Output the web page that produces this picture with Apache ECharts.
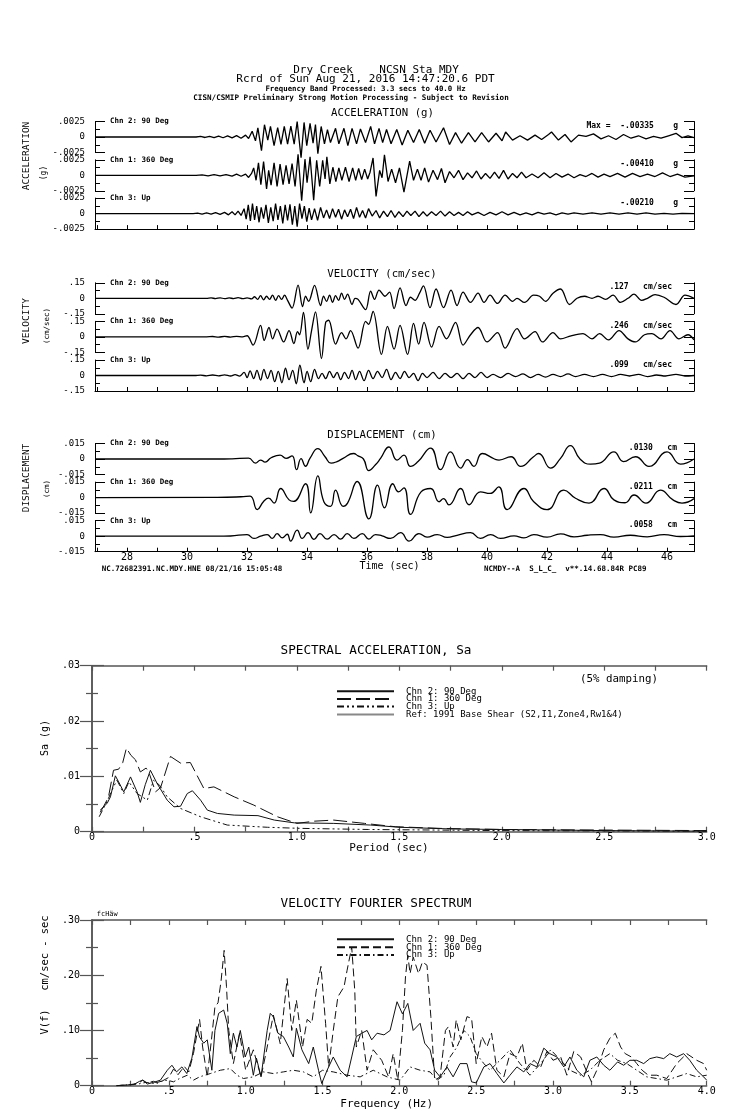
<!DOCTYPE html>
<html><head><meta charset="utf-8">
<script src="https://cdn.jsdelivr.net/npm/echarts/dist/echarts.min.js"></script>
<style>html,body{margin:0;padding:0;background:#fff}#c{width:739px;height:1115px}</style>
</head><body><div id="c"></div>
<script>
// ---------------- DATA ----------------
const timeTicks = [27,28,29,30,31,32,33,34,35,36,37,38,39,40,41,42,43,44,45,46];
const timeTickLabels = [28,30,32,34,36,38,40,42,44,46];
const channelNames = ['Chn 2: 90 Deg','Chn 1: 360 Deg','Chn 3: Up'];
const peakLabels = ['Max =  -.00335    g','-.00410    g','-.00210    g',
  '.127   cm/sec','.246   cm/sec','.099   cm/sec',
  '.0130   cm','.0211   cm','.0058   cm'];

const accChn2 = [[26.93,0],[30.3,0],[30.45,0.0001],[30.6,-0.00008],[30.75,0.00012],[30.9,-0.0001],[31.05,0.00015],[31.2,-0.00012],[31.35,0.00018],[31.5,-0.00015],[31.65,0.00022],[31.8,-0.0002],[31.95,0.0003],[32.05,-0.00025],[32.17,0.00094],[32.28,-0.00063],[32.36,0.00146],[32.48,-0.00219],[32.58,0.00198],[32.69,-0.0005],[32.78,0.0017],[32.9,-0.0014],[33.02,0.0015],[33.13,-0.0012],[33.24,0.0017],[33.35,-0.00115],[33.46,0.00175],[33.57,-0.00115],[33.67,0.0025],[33.8,-0.00335],[33.9,0.00235],[33.99,-0.0014],[34.1,0.0022],[34.2,-0.001],[34.28,0.002],[34.36,-0.0027],[34.47,0.0017],[34.58,-0.0011],[34.68,0.0012],[34.78,-0.0009],[34.95,0.0014],[35.06,-0.0011],[35.23,0.0014],[35.36,-0.0014],[35.5,0.0014],[35.65,-0.0011],[35.78,0.0013],[35.95,-0.0009],[36.12,0.0017],[36.25,-0.0011],[36.4,0.0014],[36.52,-0.0009],[36.65,0.0012],[36.8,-0.0011],[36.99,0.0012],[37.17,-0.0013],[37.36,0.0011],[37.55,-0.0009],[37.74,0.0012],[37.92,-0.001],[38.1,0.0011],[38.3,-0.0008],[38.55,0.0015],[38.75,-0.0012],[38.95,0.0007],[39.15,-0.001],[39.38,0.0007],[39.6,-0.0008],[39.82,0.0007],[40.05,-0.0008],[40.3,0.0006],[40.5,-0.0006],[40.62,0.0008],[40.85,-0.0005],[41.1,0.0002],[41.35,-0.0005],[41.6,0.0003],[41.82,-0.0004],[42.05,0.0004],[42.15,0.0008],[42.38,-0.0005],[42.6,0.0004],[42.8,-0.0008],[43.05,0.0003],[43.3,0.0001],[43.55,0.0005],[43.8,-0.0003],[44.05,0.0002],[44.3,-0.0004],[44.55,0.0004],[44.8,-0.0002],[45.05,0.0002],[45.3,-0.0003],[45.55,0.0001],[45.8,-0.0002],[46.05,0.0002],[46.3,0.0006],[46.5,-0.0001],[46.7,0.0002],[46.9,-0.0001]];

const accChn1 = [[26.93,0],[30.3,0],[30.5,0.00008],[30.7,-0.00008],[30.9,0.0001],[31.1,-0.0001],[31.3,0.00012],[31.5,-0.00012],[31.65,0.0002],[31.8,-0.00015],[31.95,0.0002],[32.05,-0.00035],[32.15,0.0003],[32.22,0.0012],[32.3,-0.0008],[32.38,0.002],[32.46,-0.0015],[32.55,0.0022],[32.65,-0.0022],[32.72,0.0008],[32.8,-0.0016],[32.9,0.002],[33.0,-0.0018],[33.1,0.0018],[33.2,-0.0015],[33.3,0.0016],[33.4,-0.0014],[33.5,0.0019],[33.6,-0.0018],[33.7,0.0034],[33.82,-0.0041],[33.93,0.0026],[34.0,-0.0012],[34.1,0.003],[34.22,-0.004],[34.32,0.0024],[34.42,-0.0018],[34.52,0.0024],[34.6,-0.0006],[34.66,0.003],[34.76,-0.0014],[34.86,0.0013],[34.96,-0.001],[35.06,0.0012],[35.16,-0.0008],[35.28,0.0013],[35.4,-0.001],[35.52,0.0012],[35.62,-0.0008],[35.72,0.0011],[35.82,-0.0007],[35.92,0.001],[36.02,-0.0006],[36.1,0.0005],[36.2,0.0028],[36.3,-0.0034],[36.42,0.0008],[36.5,-0.0004],[36.58,0.0033],[36.7,-0.001],[36.82,0.001],[36.95,-0.0012],[37.08,0.0012],[37.23,-0.0027],[37.42,0.0023],[37.55,-0.0008],[37.68,0.001],[37.8,-0.0008],[37.92,0.0012],[38.05,-0.0011],[38.2,0.0008],[38.35,-0.0007],[38.48,0.0011],[38.6,-0.0012],[38.75,0.0006],[38.9,-0.0004],[39.05,0.0008],[39.2,-0.0007],[39.35,0.0004],[39.5,-0.0004],[39.65,0.0007],[39.8,-0.0006],[39.95,0.0003],[40.1,-0.0005],[40.25,0.0005],[40.4,-0.0005],[40.55,0.0008],[40.7,-0.0006],[40.85,0.0003],[41.0,-0.0004],[41.15,0.0005],[41.3,-0.0004],[41.5,0.0002],[41.7,-0.0004],[41.9,0.0004],[42.1,-0.0004],[42.3,0.0003],[42.5,-0.0003],[42.7,0.0002],[42.9,-0.0004],[43.1,0.0001],[43.3,-0.0002],[43.5,0.0003],[43.7,-0.0003],[43.9,0.0002],[44.1,-0.0002],[44.35,0.0003],[44.6,-0.0003],[44.85,0.0003],[45.1,-0.0002],[45.35,0.0002],[45.6,-0.0002],[45.85,0.0004],[46.1,-0.0002],[46.35,0.0002],[46.6,-0.0003],[46.9,-0.0001]];

const accChn3 = [[26.93,0],[30.2,0],[30.35,0.00008],[30.5,-0.00008],[30.65,0.0001],[30.8,-0.0001],[30.95,0.00015],[31.1,-0.00012],[31.25,0.0002],[31.38,-0.0002],[31.5,0.0003],[31.6,-0.0002],[31.7,0.0004],[31.8,-0.0003],[31.9,0.0008],[31.97,-0.0009],[32.04,0.0014],[32.11,-0.0012],[32.18,0.0016],[32.25,-0.001],[32.32,0.0012],[32.4,-0.0014],[32.47,0.001],[32.55,-0.0008],[32.63,0.0014],[32.71,-0.0015],[32.79,0.001],[32.87,-0.0012],[32.95,0.0016],[33.03,-0.001],[33.11,0.0012],[33.19,-0.0016],[33.27,0.0014],[33.35,-0.0011],[33.43,0.0015],[33.51,-0.0018],[33.59,0.0012],[33.67,-0.0021],[33.75,0.0016],[33.83,-0.0008],[33.91,0.0012],[33.99,-0.0013],[34.07,0.0009],[34.15,-0.001],[34.25,0.0008],[34.35,-0.0011],[34.45,0.001],[34.55,-0.0007],[34.65,0.0006],[34.75,-0.0008],[34.85,0.0008],[34.95,-0.0006],[35.05,0.0007],[35.15,-0.0009],[35.25,0.0006],[35.35,-0.0005],[35.45,0.0007],[35.55,-0.0008],[35.65,0.001],[35.75,-0.0006],[35.85,0.0005],[35.95,-0.0007],[36.05,0.0008],[36.17,-0.0004],[36.3,0.0005],[36.42,-0.0007],[36.55,0.0004],[36.68,-0.0005],[36.8,0.0005],[36.93,-0.0006],[37.06,0.0003],[37.2,-0.0005],[37.33,0.0004],[37.46,-0.0003],[37.6,0.0004],[37.73,-0.0005],[37.87,0.0003],[38.0,-0.0004],[38.15,0.0003],[38.3,-0.0003],[38.45,0.0004],[38.6,-0.0004],[38.75,0.0003],[38.9,-0.0003],[39.05,0.0002],[39.2,-0.0003],[39.35,0.0003],[39.5,-0.0002],[39.7,0.0002],[39.9,-0.0003],[40.1,0.0002],[40.3,-0.0002],[40.5,0.0003],[40.7,-0.0002],[40.9,0.0002],[41.1,-0.0002],[41.3,0.0001],[41.5,-0.0002],[41.7,0.0002],[41.9,-0.0001],[42.1,0.0001],[42.3,-0.0002],[42.5,0.0001],[42.7,-0.0001],[42.9,0.0001],[43.2,-0.0001],[43.5,0.0001],[43.8,-0.0001],[44.1,0.0001],[44.4,-0.0001],[44.7,0.0001],[45.0,-0.0001],[45.3,0.0001],[45.6,-0.0001],[45.9,0.00005],[46.2,-0.0001],[46.5,0.00005],[46.9,0]];

const velChn2 = [[26.93,0],[30.65,0],[30.8,0.004],[30.95,-0.003],[31.1,0.005],[31.25,-0.004],[31.4,0.004],[31.55,-0.003],[31.7,0.006],[31.85,-0.004],[32.0,0.004],[32.15,-0.006],[32.25,0.015],[32.35,-0.01],[32.45,0.025],[32.55,-0.015],[32.65,0.02],[32.75,-0.01],[32.85,0.03],[32.95,-0.02],[33.05,0.025],[33.15,-0.01],[33.25,0.03],[33.35,-0.02],[33.5,-0.095],[33.7,0.127],[33.85,-0.08],[33.95,0.02],[34.05,-0.03],[34.25,0.125],[34.45,-0.07],[34.55,0.02],[34.65,-0.03],[34.75,0.03],[34.85,-0.04],[34.95,0.025],[35.05,-0.02],[35.15,0.05],[35.25,-0.01],[35.35,0.04],[35.5,-0.06],[35.6,0.0],[35.7,-0.01],[35.95,-0.11],[36.12,0.07],[36.25,-0.01],[36.4,0.08],[36.6,0.02],[36.75,0.06],[36.9,-0.1],[37.1,0.1],[37.3,-0.07],[37.45,0.01],[37.6,-0.02],[37.75,0.05],[37.88,0.12],[38.1,-0.09],[38.3,0.09],[38.55,-0.09],[38.8,0.08],[39.0,-0.07],[39.2,0.06],[39.45,-0.04],[39.7,0.05],[39.9,-0.04],[40.1,0.03],[40.35,-0.05],[40.6,0.03],[40.85,-0.03],[41.0,0.0],[41.25,-0.04],[41.55,0.03],[41.75,0.02],[41.95,-0.03],[42.2,0.05],[42.45,0.09],[42.75,-0.06],[43.0,0.0],[43.25,0.02],[43.5,0.0],[43.7,0.02],[43.95,-0.01],[44.2,0.03],[44.45,-0.04],[44.7,0.0],[44.9,0.04],[45.15,-0.02],[45.35,0.0],[45.6,0.035],[45.9,0.01],[46.3,-0.06],[46.6,0.03],[46.9,0.0]];

const velChn1 = [[26.93,0],[30.65,0],[30.85,0.003],[31.05,-0.003],[31.25,0.004],[31.45,-0.003],[31.65,0.005],[31.85,0.0],[32.0,0.01],[32.2,-0.08],[32.45,0.11],[32.57,-0.035],[32.73,0.09],[32.85,-0.02],[33.0,0.075],[33.22,-0.05],[33.4,0.06],[33.56,-0.065],[33.68,0.05],[33.75,0.02],[33.88,0.236],[34.03,-0.12],[34.15,0.06],[34.28,0.242],[34.48,-0.21],[34.62,0.14],[34.72,0.16],[34.95,-0.07],[35.15,0.04],[35.3,-0.02],[35.45,0.06],[35.7,-0.11],[35.95,0.15],[36.05,0.12],[36.2,0.246],[36.48,-0.17],[36.68,0.1],[36.9,-0.12],[37.1,0.11],[37.35,-0.17],[37.55,0.13],[37.72,-0.07],[37.9,0.14],[38.15,-0.1],[38.4,0.1],[38.65,-0.02],[38.95,0.14],[39.2,-0.08],[39.45,0.02],[39.7,0.09],[40.0,-0.05],[40.35,0.04],[40.6,-0.11],[41.0,0.08],[41.25,-0.02],[41.6,0.05],[41.85,-0.05],[42.2,0.04],[42.45,-0.02],[42.8,0.01],[43.2,0.03],[43.5,-0.02],[43.75,0.03],[44.05,-0.03],[44.4,0.06],[44.7,-0.02],[44.95,-0.05],[45.25,0.02],[45.5,0.03],[45.8,-0.02],[46.1,0.06],[46.4,-0.02],[46.7,0.02],[46.9,-0.03]];

const velChn3 = [[26.93,0],[30.25,0],[30.45,0.004],[30.65,-0.004],[30.85,0.005],[31.05,-0.004],[31.25,0.006],[31.45,-0.005],[31.6,0.008],[31.75,-0.006],[31.9,0.03],[32.0,-0.02],[32.1,0.045],[32.22,-0.03],[32.33,0.05],[32.45,-0.045],[32.56,0.06],[32.68,-0.03],[32.8,0.05],[32.92,-0.06],[33.04,0.04],[33.16,-0.07],[33.28,0.07],[33.4,-0.04],[33.52,0.05],[33.64,-0.08],[33.76,0.099],[33.9,-0.07],[34.0,0.04],[34.12,-0.06],[34.25,0.06],[34.38,-0.03],[34.5,0.02],[34.62,-0.03],[34.75,0.04],[34.88,-0.02],[35.0,0.03],[35.12,-0.04],[35.25,0.03],[35.38,-0.03],[35.5,0.05],[35.62,-0.04],[35.75,0.04],[35.9,-0.05],[36.05,0.05],[36.2,-0.03],[36.35,0.04],[36.5,-0.02],[36.65,0.06],[36.8,-0.04],[36.95,0.03],[37.1,-0.03],[37.25,0.04],[37.4,-0.02],[37.55,0.02],[37.7,-0.05],[37.85,0.02],[38.0,-0.02],[38.2,0.03],[38.4,-0.03],[38.6,0.02],[38.8,-0.02],[39.0,0.02],[39.2,-0.03],[39.4,0.02],[39.6,-0.02],[39.8,0.03],[40.0,-0.02],[40.2,0.01],[40.45,-0.02],[40.7,0.02],[40.95,-0.01],[41.2,0.015],[41.45,-0.02],[41.7,0.01],[41.95,-0.015],[42.2,0.01],[42.45,-0.01],[42.7,0.015],[42.95,-0.01],[43.25,0.01],[43.55,-0.01],[43.85,0.01],[44.15,-0.01],[44.45,0.01],[44.75,-0.005],[45.05,0.01],[45.35,-0.01],[45.65,0.005],[45.95,-0.005],[46.3,0.01],[46.6,-0.005],[46.9,0]];

const dispChn2 = [[26.93,0],[31.0,0],[31.5,0.0002],[32.05,0.0008],[32.28,-0.004],[32.45,-0.001],[32.6,-0.003],[32.8,0.0012],[33.1,0.0037],[33.3,0.0006],[33.5,0.003],[33.65,-0.0103],[33.8,0.0004],[33.95,-0.007],[34.1,0.0008],[34.36,0.01],[34.6,0.0022],[34.8,-0.004],[35.0,-0.0025],[35.2,0.0006],[35.55,0.0053],[35.7,0.003],[35.88,0.0],[36.06,-0.0112],[36.28,-0.0056],[36.45,0.0006],[36.73,0.0116],[37.0,-0.001],[37.23,0.0037],[37.45,-0.0072],[37.7,-0.0025],[38.12,0.0106],[38.45,-0.0103],[38.78,0.0069],[39.12,-0.0088],[39.35,-0.0006],[39.56,-0.0072],[39.84,0.0053],[40.25,0.0],[40.4,-0.001],[40.8,0.0022],[41.12,-0.0072],[41.55,0.0022],[41.72,0.0053],[42.12,-0.0088],[42.45,0.0006],[42.78,0.013],[43.1,0.0],[43.45,-0.005],[43.75,-0.004],[44.23,0.0069],[44.55,-0.0025],[44.95,0.0022],[45.4,-0.0072],[46.0,0.0069],[46.45,-0.005],[46.9,0.0]];

const dispChn1 = [[26.93,0],[31.0,0.0002],[31.8,0.0008],[32.1,0.0015],[32.34,-0.0116],[32.55,-0.0037],[32.72,-0.0006],[32.9,-0.0053],[33.12,0.0088],[33.4,-0.0022],[33.55,-0.0037],[33.95,0.0134],[34.12,-0.0147],[34.36,0.0211],[34.56,-0.004],[34.78,-0.0084],[34.95,0.0072],[35.2,-0.0084],[35.35,-0.0053],[35.67,0.0156],[36.06,-0.0205],[36.35,0.012],[36.58,-0.01],[36.86,0.0134],[37.05,0.0056],[37.23,0.0094],[37.45,-0.0163],[37.8,0.0056],[38.12,0.0088],[38.4,-0.004],[38.55,-0.001],[38.73,-0.007],[39.12,0.0088],[39.4,-0.0069],[39.78,0.0056],[40.1,0.004],[40.39,0.0103],[40.67,-0.0116],[41.23,0.0088],[41.55,-0.0037],[42.0,-0.0116],[42.56,0.0072],[42.95,-0.0006],[43.4,-0.0053],[43.9,0.0088],[44.23,-0.0022],[44.6,-0.005],[44.9,0.0025],[45.3,-0.0053],[45.78,0.0072],[46.2,-0.0022],[46.5,-0.0053],[46.9,-0.001]];

const dispChn3 = [[26.93,0],[31.0,0],[31.45,0.0002],[32.0,0.0016],[32.23,-0.0022],[32.45,0.0],[32.67,0.0016],[32.84,-0.0022],[33.0,0.0025],[33.17,-0.0016],[33.34,0.0019],[33.45,-0.0047],[33.67,0.0058],[33.84,-0.0022],[34.03,0.0034],[34.23,-0.0031],[34.43,0.0025],[34.67,-0.0028],[34.9,0.0016],[35.12,-0.0028],[35.34,0.0025],[35.56,-0.0022],[35.84,0.0025],[36.06,-0.0028],[36.28,0.0016],[36.5,0.0003],[36.78,-0.0022],[37.12,0.0034],[37.4,-0.0047],[37.73,0.0025],[38.0,-0.0009],[38.34,0.0016],[38.67,-0.0012],[39.0,0.0009],[39.45,0.0034],[39.78,-0.0022],[40.12,0.0016],[40.45,-0.0022],[40.9,0.0003],[41.23,-0.0016],[41.56,0.0016],[42.0,-0.0009],[42.45,0.0022],[42.9,-0.0006],[43.34,0.0009],[43.78,0.0016],[44.23,-0.0009],[44.78,0.0009],[45.34,-0.0006],[45.9,0.0016],[46.45,-0.0003],[46.9,0.0003]];

// Spectral acceleration (period sec, Sa g)
const saChn2 = [[0.04,0.0039],[0.057,0.0045],[0.075,0.0052],[0.09,0.0063],[0.114,0.0101],[0.13,0.009],[0.155,0.0072],[0.188,0.0099],[0.22,0.0072],[0.236,0.0053],[0.26,0.0085],[0.285,0.0111],[0.318,0.0087],[0.367,0.0057],[0.4,0.0045],[0.432,0.0046],[0.465,0.0069],[0.49,0.0074],[0.53,0.0057],[0.563,0.0039],[0.612,0.0033],[0.694,0.003],[0.81,0.0029],[0.89,0.0021],[0.987,0.0016],[1.18,0.0015],[1.36,0.0012],[1.5,0.0008],[1.75,0.0005],[2.0,0.0004],[2.5,0.0002],[3.0,0.0001]];
const saChn1 = [[0.04,0.0035],[0.06,0.0048],[0.08,0.0062],[0.105,0.0111],[0.13,0.0113],[0.15,0.0125],[0.168,0.0151],[0.19,0.0138],[0.212,0.013],[0.236,0.0108],[0.264,0.0115],[0.277,0.0108],[0.31,0.0072],[0.335,0.008],[0.383,0.0136],[0.432,0.0124],[0.48,0.0125],[0.546,0.0078],[0.595,0.0081],[0.694,0.0063],[0.79,0.0048],[0.905,0.0027],[1.0,0.0015],[1.085,0.0019],[1.18,0.0021],[1.33,0.0015],[1.48,0.0009],[1.7,0.0006],[2.0,0.0004],[2.5,0.0003],[3.0,0.0002]];
const saChn3 = [[0.035,0.0027],[0.06,0.0045],[0.08,0.006],[0.105,0.0081],[0.122,0.0093],[0.155,0.0069],[0.18,0.009],[0.22,0.0069],[0.27,0.0057],[0.3,0.0093],[0.33,0.0084],[0.367,0.0063],[0.432,0.0042],[0.53,0.0027],[0.66,0.0012],[0.856,0.0008],[1.02,0.0006],[1.35,0.0004],[2.0,0.0002],[3.0,0.0001]];

// Velocity Fourier spectrum (Hz, cm/sec-sec)
const vfChn2 = [[0.16,0],[0.27,0.002],[0.31,0.008],[0.33,0.01],[0.36,0.003],[0.4,0.006],[0.445,0.01],[0.49,0.028],[0.52,0.037],[0.55,0.025],[0.585,0.034],[0.617,0.022],[0.65,0.05],[0.683,0.107],[0.7,0.088],[0.727,0.077],[0.75,0.083],[0.78,0.028],[0.8,0.1],[0.824,0.131],[0.857,0.137],[0.88,0.113],[0.9,0.058],[0.92,0.095],[0.943,0.07],[0.965,0.1],[0.997,0.052],[1.02,0.07],[1.05,0.019],[1.07,0.05],[1.1,0.016],[1.14,0.1],[1.16,0.131],[1.18,0.125],[1.21,0.095],[1.245,0.089],[1.28,0.07],[1.31,0.052],[1.33,0.104],[1.366,0.065],[1.41,0.04],[1.44,0.07],[1.474,0.028],[1.495,0.004],[1.53,0.028],[1.57,0.052],[1.615,0.028],[1.66,0.016],[1.69,0.052],[1.72,0.089],[1.755,0.095],[1.79,0.1],[1.82,0.083],[1.855,0.095],[1.9,0.092],[1.94,0.1],[1.985,0.152],[2.02,0.13],[2.055,0.149],[2.09,0.1],[2.135,0.113],[2.165,0.077],[2.2,0.065],[2.23,0.028],[2.265,0.016],[2.31,0.034],[2.35,0.016],[2.395,0.04],[2.44,0.04],[2.47,0.007],[2.5,0.005],[2.55,0.034],[2.59,0.04],[2.635,0.022],[2.68,0.005],[2.72,0.019],[2.765,0.034],[2.81,0.025],[2.85,0.04],[2.895,0.034],[2.94,0.068],[2.98,0.058],[3.025,0.052],[3.07,0.034],[3.11,0.052],[3.155,0.028],[3.2,0.016],[3.24,0.046],[3.285,0.052],[3.33,0.037],[3.37,0.028],[3.42,0.043],[3.46,0.037],[3.5,0.046],[3.545,0.046],[3.59,0.04],[3.63,0.049],[3.675,0.052],[3.72,0.049],[3.76,0.058],[3.805,0.052],[3.85,0.058],[3.89,0.046],[3.935,0.028],[3.98,0.016],[4.0,0.01]];
const vfChn1 = [[0.16,0],[0.25,0.002],[0.3,0.004],[0.33,0.01],[0.36,0.005],[0.4,0.008],[0.43,0.004],[0.46,0.009],[0.5,0.015],[0.53,0.03],[0.56,0.02],[0.6,0.035],[0.63,0.025],[0.66,0.058],[0.7,0.12],[0.72,0.07],[0.75,0.016],[0.78,0.09],[0.8,0.143],[0.82,0.15],[0.84,0.19],[0.86,0.245],[0.875,0.18],[0.89,0.1],[0.92,0.04],[0.96,0.095],[1.0,0.028],[1.05,0.065],[1.1,0.016],[1.14,0.07],[1.18,0.128],[1.225,0.076],[1.27,0.194],[1.3,0.1],[1.33,0.155],[1.37,0.07],[1.4,0.12],[1.43,0.113],[1.46,0.173],[1.49,0.216],[1.52,0.113],[1.54,0.034],[1.57,0.1],[1.6,0.161],[1.64,0.179],[1.66,0.209],[1.69,0.251],[1.71,0.172],[1.72,0.07],[1.755,0.1],[1.79,0.028],[1.83,0.065],[1.885,0.046],[1.93,0.016],[1.96,0.058],[1.99,0.01],[2.02,0.1],[2.04,0.197],[2.055,0.236],[2.07,0.203],[2.09,0.233],[2.125,0.203],[2.15,0.224],[2.18,0.218],[2.205,0.125],[2.23,0.01],[2.265,0.016],[2.3,0.1],[2.32,0.107],[2.35,0.07],[2.37,0.119],[2.4,0.083],[2.44,0.125],[2.47,0.122],[2.5,0.04],[2.537,0.089],[2.57,0.07],[2.6,0.095],[2.635,0.028],[2.68,0.016],[2.72,0.058],[2.765,0.052],[2.8,0.077],[2.83,0.028],[2.875,0.046],[2.92,0.034],[2.96,0.062],[3.0,0.046],[3.05,0.052],[3.09,0.019],[3.135,0.062],[3.18,0.052],[3.22,0.025],[3.25,0.007],[3.285,0.028],[3.33,0.065],[3.37,0.086],[3.405,0.095],[3.44,0.07],[3.47,0.058],[3.51,0.052],[3.545,0.04],[3.58,0.028],[3.62,0.019],[3.675,0.019],[3.74,0.013],[3.805,0.04],[3.87,0.058],[3.935,0.046],[3.98,0.04],[4.0,0.028]];
const vfChn3 = [[0.16,0],[0.3,0.003],[0.35,0.006],[0.4,0.004],[0.45,0.008],[0.49,0.01],[0.53,0.007],[0.57,0.013],[0.62,0.019],[0.66,0.01],[0.7,0.016],[0.77,0.022],[0.835,0.028],[0.9,0.031],[0.943,0.019],[0.986,0.013],[1.05,0.016],[1.115,0.025],[1.18,0.022],[1.245,0.025],[1.31,0.028],[1.376,0.025],[1.44,0.016],[1.5,0.028],[1.57,0.025],[1.66,0.019],[1.745,0.016],[1.83,0.028],[1.92,0.016],[2.005,0.01],[2.07,0.034],[2.135,0.028],[2.2,0.025],[2.245,0.01],[2.29,0.019],[2.33,0.052],[2.375,0.07],[2.42,0.1],[2.46,0.089],[2.5,0.058],[2.55,0.04],[2.59,0.028],[2.655,0.046],[2.72,0.065],[2.785,0.04],[2.85,0.019],[2.92,0.04],[2.985,0.065],[3.05,0.046],[3.11,0.028],[3.18,0.019],[3.24,0.028],[3.305,0.046],[3.37,0.058],[3.42,0.046],[3.48,0.04],[3.545,0.028],[3.61,0.016],[3.675,0.013],[3.74,0.01],[3.805,0.016],[3.87,0.022],[3.935,0.016],[4.0,0.019]];

// ---------------- LAYOUT / STYLE ----------------
const F = 'DejaVu Sans Mono';
const BLK = '#000';
const panels = [
  {d:accChn2, zero:137,   lim:0.0025, pr:16, bottom:false, lab:false, smooth:false},
  {d:accChn1, zero:175.3, lim:0.0025, pr:16, bottom:false, lab:false, smooth:false},
  {d:accChn3, zero:213.6, lim:0.0025, pr:16, bottom:true,  lab:false, smooth:false},
  {d:velChn2, zero:298.3, lim:0.15,   pr:22, bottom:false, lab:false, smooth:0.35},
  {d:velChn1, zero:336.8, lim:0.15,   pr:22, bottom:false, lab:false, smooth:0.35},
  {d:velChn3, zero:375.5, lim:0.15,   pr:22, bottom:true,  lab:false, smooth:0.35},
  {d:dispChn2, zero:459,   lim:0.015, pr:17, bottom:false, lab:false, smooth:0.5},
  {d:dispChn1, zero:497.6, lim:0.015, pr:17, bottom:false, lab:false, smooth:0.5},
  {d:dispChn3, zero:536.2, lim:0.015, pr:17, bottom:true,  lab:true,  smooth:0.5}
];
const fmtY = v => Math.abs(v) < 1e-12 ? '0' : (v < 0 ? '-' : '') + String(+Math.abs(v).toPrecision(6)).replace(/^0/, '');
const fmt2 = v => Math.abs(v) < 1e-12 ? '0' : v.toFixed(2).replace(/^0/, '');
const fmtX = v => Math.abs(v) < 1e-12 ? '0' : v.toFixed(1).replace(/^0/, '');

const grids = [], xAxes = [], yAxes = [], series = [], legends = [], els = [];

panels.forEach((p, i) => {
  grids.push({left:95, width:599, top:p.zero - 15.5, height:31, outerBoundsMode:'none', containLabel:false});
  xAxes.push({gridIndex:i, type:'value', min:26.93, max:46.9, show:p.bottom,
    axisLine:{show:true, onZero:false, lineStyle:{color:BLK, width:1}},
    axisTick:{show:true, inside:true, length:4, customValues:timeTicks, lineStyle:{color:BLK}},
    axisLabel:{show:p.lab, customValues:timeTickLabels, margin:1, fontFamily:F, fontSize:10, color:BLK},
    splitLine:{show:false}});
  const yBase = {gridIndex:i, type:'value', min:-p.lim, max:p.lim, interval:p.lim,
    axisLine:{show:true, lineStyle:{color:BLK, width:1}},
    axisTick:{show:true, inside:true, length:10, lineStyle:{color:BLK}},
    minorTick:{show:true, splitNumber:2, length:5, lineStyle:{color:BLK}},
    splitLine:{show:false}, nameMoveOverlap:false};
  yAxes.push(Object.assign({}, yBase, {position:'left',
    axisLabel:{formatter:fmtY, margin:10, fontFamily:F, fontSize:9, color:BLK},
    name:channelNames[i % 3], nameLocation:'end', nameGap:0,
    nameTextStyle:{align:'left', verticalAlign:'middle', padding:[0,0,0,15], fontFamily:F, fontSize:7.5, fontWeight:'bold', color:BLK}}));
  yAxes.push(Object.assign({}, yBase, {position:'right',
    axisLabel:{show:false},
    name:peakLabels[i], nameLocation:'end', nameGap:-4.5,
    nameTextStyle:{align:'right', verticalAlign:'middle', padding:[0,p.pr,0,0], fontFamily:F, fontSize:8, fontWeight:'bold', color:BLK}}));
  series.push({type:'line', xAxisIndex:i, yAxisIndex:2*i, data:p.d, symbol:'none', clip:false,
    smooth:p.smooth, silent:true, lineStyle:{color:BLK, width:1.3}});
});

// spectral grids
const FR = '#555';
function specAxes(gi, xmax, ymax, yint) {
  xAxes.push({gridIndex:gi, type:'value', min:0, max:xmax, interval:0.5, position:'bottom',
    axisLine:{show:true, onZero:false, lineStyle:{color:FR, width:1.5}},
    axisTick:{show:true, inside:true, length:5, lineStyle:{color:FR, width:1.2}},
    minorTick:{show:true, splitNumber:2, length:5, lineStyle:{color:FR, width:1.2}},
    axisLabel:{formatter:fmtX, margin:1, fontFamily:F, fontSize:10, color:BLK},
    splitLine:{show:false}, minorSplitLine:{show:false}});
  xAxes.push({gridIndex:gi, type:'value', min:0, max:xmax, interval:0.5, position:'top',
    axisLine:{show:true, onZero:false, lineStyle:{color:FR, width:1.5}},
    axisTick:{show:true, inside:true, length:5, lineStyle:{color:FR, width:1.2}},
    minorTick:{show:true, splitNumber:2, length:5, lineStyle:{color:FR, width:1.2}},
    axisLabel:{show:false}, splitLine:{show:false}});
  const yb = {gridIndex:gi, type:'value', min:0, max:ymax, interval:yint,
    axisLine:{show:true, lineStyle:{color:FR, width:1.5}},
    axisTick:{show:true, inside:true, length:12, lineStyle:{color:FR, width:1.2}},
    minorTick:{show:true, splitNumber:2, length:6, lineStyle:{color:FR, width:1.2}},
    splitLine:{show:false}};
  yAxes.push(Object.assign({}, yb, {position:'left', axisLabel:{formatter:fmt2, margin:12, fontFamily:F, fontSize:10, color:BLK}}));
  yAxes.push(Object.assign({}, yb, {position:'right', axisLabel:{show:false}}));
}
grids.push({left:92, right:32.3, top:665.7, height:166, outerBoundsMode:'none', containLabel:false});
specAxes(9, 3, 0.03, 0.01);
grids.push({left:92, right:32.3, top:920, height:165.7, outerBoundsMode:'none', containLabel:false});
specAxes(10, 4, 0.3, 0.1);

const saStyles = [{type:'solid', color:'#111', width:1}, {type:[14,5], color:'#111', width:1}, {type:[7,3,2,3,2,3], color:'#111', width:1}];
const saData = [saChn2, saChn1, saChn3];
const refName = 'Ref: 1991 Base Shear (S2,I1,Zone4,Rw1&4)';
saData.forEach((d, k) => series.push({name:channelNames[k], type:'line', xAxisIndex:9, yAxisIndex:18, data:d,
  symbol:'none', color:'#111', lineStyle:saStyles[k], silent:true}));
series.push({name:refName, type:'line', xAxisIndex:9, yAxisIndex:18, data:[], symbol:'none', color:'#888', lineStyle:{color:'#888', width:2.5}});

const vfStyles = [{type:'solid', color:'#111', width:1}, {type:[8,4], color:'#111', width:1}, {type:[6,3,1.5,3], color:'#111', width:1}];
const vfData = [vfChn2, vfChn1, vfChn3];
vfData.forEach((d, k) => series.push({name:channelNames[k] + ' ', type:'line', xAxisIndex:11, yAxisIndex:20, data:d,
  symbol:'none', color:'#111', lineStyle:vfStyles[k], silent:true}));

function leg(name, y) {
  legends.push({show:true, left:336, top:y - 5, itemWidth:57, itemHeight:10, itemGap:0, selectedMode:false,
    data:[name], padding:0, itemStyle:{opacity:0, borderWidth:0},
    textStyle:{fontFamily:F, fontSize:9, color:BLK, lineHeight:10, padding:[0,0,0,7]}});
}
leg(channelNames[0], 691.3); leg(channelNames[1], 699); leg(channelNames[2], 706.5); leg(refName, 714.5);
leg(channelNames[0] + ' ', 939.3); leg(channelNames[1] + ' ', 947.2); leg(channelNames[2] + ' ', 955);

function txt(s, x, y, size, o) {
  o = o || {};
  const al = o.align || 'center';
  els.push({type:'text', x:x, y:y, rotation:o.rot || 0, silent:true,
    style:{text:s, font:(o.bold ? 'bold ' : '') + size + 'px "DejaVu Sans Mono"', fill:BLK,
      align:al, verticalAlign:'middle', textAlign:al, textVerticalAlign:'middle'}});
}
const R = Math.PI / 2;
txt('Dry Creek    NCSN Sta MDY', 376, 70, 11);
txt('Rcrd of Sun Aug 21, 2016 14:47:20.6 PDT', 365.5, 79.5, 11);
txt('Frequency Band Processed: 3.3 secs to 40.0 Hz', 365.5, 89.3, 7.4, {bold:true});
txt('CISN/CSMIP Preliminary Strong Motion Processing - Subject to Revision', 351, 98.3, 7.6, {bold:true});
txt('ACCELERATION (g)', 382.5, 113.3, 10.7);
txt('VELOCITY (cm/sec)', 382, 274.3, 10.7);
txt('DISPLACEMENT (cm)', 382, 435.5, 10.7);
txt('ACCELERATION', 27, 156, 9.5, {rot:R});
txt('(g)', 44, 173, 8, {rot:R});
txt('VELOCITY', 27, 321, 9.5, {rot:R});
txt('(cm/sec)', 47, 326, 7.5, {rot:R});
txt('DISPLACEMENT', 27, 478, 9.5, {rot:R});
txt('(cm)', 47, 489, 7.5, {rot:R});
txt('Time (sec)', 389.5, 566.5, 10);
txt('NC.72682391.NC.MDY.HNE 08/21/16 15:05:48', 101.7, 569, 7.5, {bold:true, align:'left'});
txt('NCMDY--A  S_L_C_  v**.14.68.84R PC89', 484, 569, 7.5, {bold:true, align:'left'});
txt('SPECTRAL ACCELERATION, Sa', 376, 651, 12.7);
txt('(5% damping)', 619, 679.3, 10.8);
txt('Sa (g)', 45, 738, 10, {rot:R});
txt('Period (sec)', 389, 848.3, 11);
txt('VELOCITY FOURIER SPECTRUM', 376, 903.3, 12.7);
txt('fcHäw', 96.7, 914, 7, {align:'left'});
txt('V(f)   cm/sec - sec', 45, 975, 10.4, {rot:R});
txt('Frequency (Hz)', 386.7, 1104.3, 11);

const chart = echarts.init(document.getElementById('c'), null, {renderer:'canvas', width:739, height:1115});
chart.setOption({
  backgroundColor:'#fff', animation:false,
  textStyle:{fontFamily:F},
  grid:grids, xAxis:xAxes, yAxis:yAxes, series:series, legend:legends,
  graphic:{elements:els}
});
</script></body></html>
